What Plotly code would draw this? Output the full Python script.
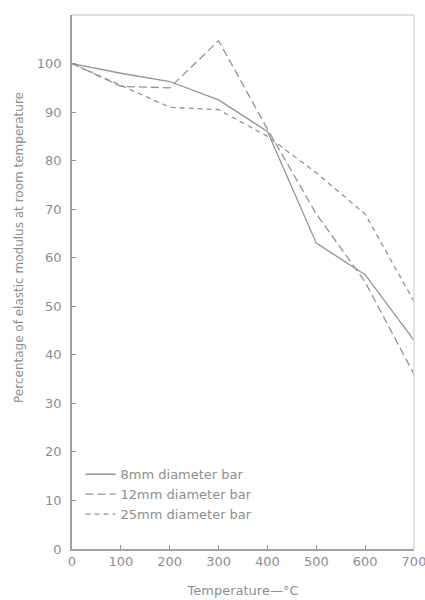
import plotly.graph_objects as go

temperature = [0, 100, 200, 300, 400, 500, 600, 700]
bar_8mm = [100, 98, 96.3, 92.5, 86, 63, 56.5, 43]
bar_12mm = [100, 95.3, 95, 104.7, 86.5, 69, 55, 36]
bar_25mm = [100, 95.5, 91, 90.5, 85, 77.5, 69, 51]
names = ["8mm diameter bar", "12mm diameter bar", "25mm diameter bar"]
x_ticks = [0, 100, 200, 300, 400, 500, 600, 700]
y_ticks = [0, 10, 20, 30, 40, 50, 60, 70, 80, 90, 100]

line_col = "#949494"
txt_col = "#8e8e8e"
font = "DejaVu Sans, sans-serif"

fig = go.Figure()
for ys, nm, dash in [(bar_8mm, names[0], "solid"),
                     (bar_12mm, names[1], "8px,4px"),
                     (bar_25mm, names[2], "5px,4px")]:
    fig.add_trace(go.Scatter(x=temperature, y=ys, name=nm, mode="lines",
                             line=dict(color=line_col, width=1.3, dash=dash)))

fig.update_layout(
    width=425, height=600,
    margin=dict(l=72, r=11, t=15, b=51),
    paper_bgcolor="white", plot_bgcolor="white",
    font=dict(family=font, size=13, color=txt_col),
    showlegend=True,
    legend=dict(x=0.025, y=0.168, xanchor="left", yanchor="top",
                bgcolor="rgba(0,0,0,0)", font=dict(size=13, color=txt_col),
                tracegroupgap=0, itemwidth=30),
    xaxis=dict(range=[0, 700], tickvals=x_ticks, ticks="inside", ticklen=4,
               tickcolor=line_col, showgrid=False, zeroline=False, automargin=False,
               ticklabeloverflow="allow",
               showline=True, linecolor="#a0a0a0", linewidth=1.5,
               tickfont=dict(size=13),
               title=dict(text="Temperature—°C", font=dict(size=13, color=txt_col), standoff=18)),
    yaxis=dict(range=[0, 110], tickvals=y_ticks, ticks="inside", ticklen=4,
               tickcolor=line_col, showgrid=False, zeroline=False, automargin=False,
               showline=True, linecolor="#a0a0a0", linewidth=1.5,
               tickfont=dict(size=13), ticklabelstandoff=6),
    shapes=[
        dict(type="line", xref="paper", yref="paper", x0=0, x1=1, y0=1, y1=1,
             line=dict(color="#d4d4d4", width=1.5)),
        dict(type="line", xref="paper", yref="paper", x0=1, x1=1, y0=0, y1=1,
             line=dict(color="#dadada", width=1.5)),
    ],
    annotations=[
        dict(text="Percentage of elastic modulus at room temperature",
             xref="paper", yref="paper", x=-0.153, y=0.565, textangle=-90,
             showarrow=False, xanchor="center", yanchor="middle",
             font=dict(size=12, color=txt_col)),
    ],
)

fig.write_html("out.html")
